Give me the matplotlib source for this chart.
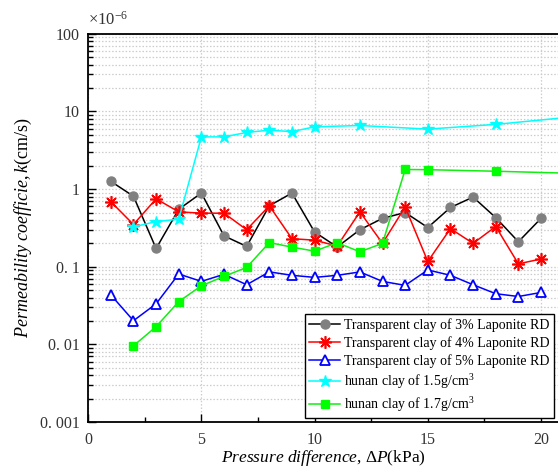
import numpy as np
import matplotlib
matplotlib.use("Agg")
import matplotlib.pyplot as plt
from matplotlib.ticker import FixedLocator, FixedFormatter, LogLocator, NullFormatter, MultipleLocator

plt.rcParams['font.family'] = ['Liberation Serif', 'DejaVu Serif']
plt.rcParams['mathtext.fontset'] = 'custom'
plt.rcParams['mathtext.rm'] = 'Liberation Serif'
plt.rcParams['mathtext.it'] = 'Liberation Serif:italic'

# pressure difference (kPa) for the transparent clay tests
dp = np.arange(1, 21)
k_3pct = [1.26, 0.81, 0.172, 0.55, 0.89, 0.25, 0.183, 0.61, 0.89, 0.28,
          0.18, 0.30, 0.42, 0.50, 0.32, 0.58, 0.79, 0.43, 0.21, 0.42]
k_4pct = [0.69, 0.35, 0.75, 0.51, 0.49, 0.49, 0.30, 0.61, 0.23, 0.22,
          0.185, 0.51, 0.20, 0.59, 0.117, 0.31, 0.20, 0.33, 0.109, 0.126]
k_5pct = [0.0435, 0.0202, 0.0333, 0.0807, 0.0648, 0.080, 0.0587, 0.086, 0.0776, 0.073,
          0.0776, 0.0858, 0.0648, 0.0576, 0.091, 0.0776, 0.0587, 0.045, 0.0414, 0.0467]

# hunan clay
dp_15 = [2, 3, 4, 5, 6, 7, 8, 9, 10, 12, 15, 18, 21]
k_15 = [0.326, 0.382, 0.41, 4.71, 4.71, 5.37, 5.75, 5.5, 6.35, 6.6, 5.93, 6.82, 8.3]
dp_17 = [2, 3, 4, 5, 6, 7, 8, 9, 10, 11, 12, 13, 14, 15, 18, 21]
k_17 = [0.0096, 0.0169, 0.0356, 0.0569, 0.0753, 0.098, 0.205, 0.179, 0.159, 0.204,
        0.156, 0.20, 1.79, 1.78, 1.70, 1.61]

labels = ['Transparent clay of 3% Laponite RD',
          'Transparent clay of 4% Laponite RD',
          'Transparent clay of 5% Laponite RD',
          'hunan clay of 1.5g/cm$^3$',
          'hunan clay of 1.7g/cm$^3$']

ytick_vals = [0.001, 0.01, 0.1, 1, 10, 100]
ytick_text = ['0. 001', '0. 01', '0. 1', '1', '10', '100']

fig = plt.figure(figsize=(5.58, 4.70), dpi=100)
ax = fig.add_axes([0.158, 0.102, 0.842, 0.826])

ax.plot(dp, k_3pct, '-', color='black', lw=1.1, marker='o', ms=6.5,
        mfc='#808080', mec='#808080', label=labels[0])
ax.plot(dp, k_4pct, '-', color='red', lw=1.1, marker=(8, 2, 0), ms=9,
        mec='red', mew=1.2, label=labels[1])
ax.plot(dp, k_5pct, '-', color='blue', lw=1.1, marker='^', ms=7.5,
        mfc='white', mec='blue', mew=1.3, label=labels[2])
ax.plot(dp_15, k_15, '-', color='cyan', lw=1.1, marker='*', ms=9,
        mfc='cyan', mec='cyan', label=labels[3])
ax.plot(dp_17, k_17, '-', color='#11ee11', lw=1.1, marker='s', ms=6,
        mfc='#00ff00', mec='#00ff00', label=labels[4])

ax.set_yscale('log')
ax.set_ylim(0.001, 100)
ax.set_xlim(0, 20.75)

ax.yaxis.set_major_locator(FixedLocator(ytick_vals))
ax.yaxis.set_major_formatter(FixedFormatter(ytick_text))
ax.yaxis.set_minor_locator(LogLocator(base=10, subs=np.arange(2, 10)))
ax.yaxis.set_minor_formatter(NullFormatter())
ax.xaxis.set_major_locator(MultipleLocator(5))
ax.xaxis.set_minor_locator(MultipleLocator(2.5))

ax.tick_params(which='both', direction='in', labelsize=11.5, colors='black',
               labelcolor='#333333', width=1)
ax.tick_params(which='major', length=6)
ax.tick_params(which='minor', length=3.5)
ax.tick_params(axis='x', pad=7)
ax.tick_params(axis='y', pad=6)

ax.grid(True, which='both', axis='y', ls=(0, (1.2, 1.5)), color='#cccccc', lw=0.9)
ax.grid(True, which='major', axis='x', ls=(0, (1.2, 1.5)), color='#cccccc', lw=0.9)
ax.set_axisbelow(True)

ax.spines['right'].set_visible(False)
for s in ['left', 'bottom', 'top']:
    ax.spines[s].set_linewidth(1.3)

ax.set_xlabel(r'$\it{Pressure\ difference}$, $\Delta \it{P}$(kPa)', fontsize=12.5, labelpad=0)
ax.set_ylabel(r'$\it{Permeability\ coefficie,k}$(cm/s)', fontsize=13, labelpad=4)
ax.text(0.0, 1.012, r'$\times10^{-6}$', transform=ax.transAxes, fontsize=12,
        color='#333333', ha='left', va='bottom')

leg = ax.legend(loc='lower right', fontsize=10, frameon=True, fancybox=False,
                edgecolor='black', framealpha=1, borderpad=0.3, labelspacing=0.3,
                handlelength=2.2, handletextpad=0.3, borderaxespad=0.3)
leg.get_frame().set_linewidth(1.0)

fig.savefig('out.png', dpi=100)
